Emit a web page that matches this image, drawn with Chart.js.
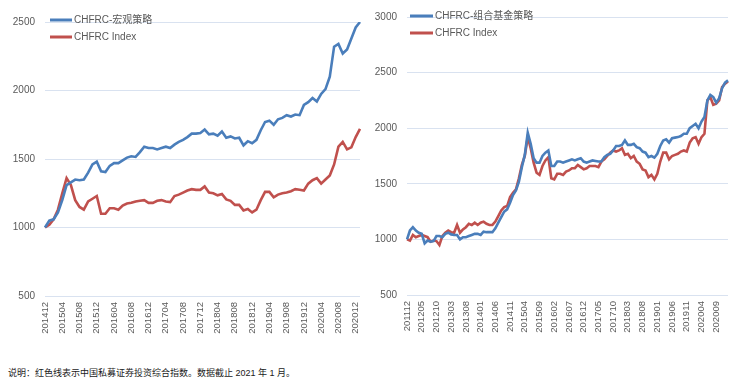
<!DOCTYPE html>
<html>
<head>
<meta charset="utf-8">
<script src="https://cdn.jsdelivr.net/npm/chart.js@4/dist/chart.umd.min.js"></script>
<style>
  html, body { margin: 0; padding: 0; background: #ffffff; }
  body { width: 750px; height: 381px; position: relative; overflow: hidden; }
  .box { position: absolute; top: 0; width: 375px; height: 340px; }
  #note { position: absolute; left: 8px; top: 366px; font-family: "Liberation Sans", "Noto Sans CJK SC", sans-serif; font-size: 9px; color: #1a1a1a; white-space: nowrap; }
</style>
</head>
<body>
<div class="box" style="left:0"><canvas id="c1" width="375" height="340"></canvas></div>
<div class="box" style="left:375px"><canvas id="c2" width="375" height="340"></canvas></div>
<div id="note">说明：红色线表示中国私募证券投资综合指数。数据截止 2021 年 1 月。</div>
<script>
// ---------- DATA ----------
function monthRange(startY, startM, endY, endM) {
  const out = [];
  let y = startY, m = startM;
  while (y < endY || (y === endY && m <= endM)) {
    out.push(String(y) + (m < 10 ? '0' : '') + m);
    m++; if (m > 12) { m = 1; y++; }
  }
  return out;
}
const leftCategories = monthRange(2014, 12, 2021, 1);   // 201412 .. 202101
const rightCategories = monthRange(2011, 12, 2021, 1);  // 201112 .. 202101

const leftSeriesName = 'CHFRC-宏观策略';
const rightSeriesName = 'CHFRC-组合基金策略';
const indexName = 'CHFRC Index';

const leftMacro = [
  1000,1050,1060,1110,1200,1310,1330,1350,1345,1350,1400,1460,1480,1410,1405,1450,
  1470,1470,1490,1510,1520,1515,1550,1590,1580,1580,1570,1580,1590,1580,1605,1625,
  1640,1660,1685,1685,1690,1715,1680,1685,1670,1700,1655,1665,1650,1655,1600,1630,
  1615,1640,1710,1770,1780,1750,1790,1800,1820,1810,1825,1820,1895,1915,1945,1920,
  1975,2010,2100,2320,2340,2270,2300,2380,2460,2500
];
const leftIndex = [
  1000,1020,1060,1130,1250,1360,1310,1200,1150,1130,1190,1210,1230,1100,1100,1140,
  1140,1130,1160,1175,1180,1190,1195,1200,1180,1180,1195,1200,1190,1185,1230,1240,
  1255,1270,1280,1275,1275,1300,1255,1250,1235,1245,1205,1195,1165,1165,1125,1135,
  1110,1130,1200,1260,1260,1220,1240,1250,1255,1265,1280,1275,1270,1320,1345,1360,
  1320,1350,1380,1460,1590,1625,1570,1585,1660,1720
];
const rightFoF = [
  1000,1080,1110,1080,1060,1050,965,990,980,985,1030,1030,1020,1050,1060,1045,
  1040,1040,1000,1020,1020,1030,1040,1050,1050,1040,1070,1065,1065,1065,1100,1150,
  1200,1250,1270,1330,1400,1440,1520,1650,1760,1960,1860,1730,1690,1690,1750,1780,
  1800,1660,1660,1700,1700,1690,1700,1710,1720,1710,1720,1730,1700,1690,1700,1710,
  1705,1700,1700,1740,1760,1770,1800,1840,1840,1850,1890,1850,1850,1860,1830,1820,
  1790,1780,1740,1750,1735,1770,1840,1890,1900,1870,1910,1915,1920,1930,1950,1950,
  2000,2020,2040,2000,2060,2100,2250,2300,2280,2230,2270,2360,2410,2430
];
const rightIndex = [
  1000,990,1040,1020,1030,1040,1030,1020,980,990,985,950,1030,1060,1080,1065,
  1060,1130,1060,1090,1110,1140,1130,1150,1130,1150,1160,1140,1130,1130,1160,1210,
  1260,1290,1300,1380,1420,1450,1550,1670,1750,1920,1820,1690,1600,1580,1660,1710,
  1740,1550,1540,1590,1590,1580,1610,1620,1640,1640,1670,1650,1630,1640,1660,1660,
  1660,1650,1700,1720,1750,1780,1800,1790,1800,1820,1760,1770,1730,1750,1700,1680,
  1630,1620,1560,1580,1540,1590,1700,1780,1780,1720,1750,1760,1770,1790,1800,1790,
  1870,1910,1920,1860,1920,1950,2250,2280,2210,2220,2250,2370,2400,2420
];

const leftYTicks = [500, 1000, 1500, 2000, 2500];
const rightYTicks = [500, 1000, 1500, 2000, 2500, 3000];
const leftLabelEvery = 4;
const rightLabelEvery = 5;

// ---------- STYLE ----------
const BLUE = '#4a7ebb';
const RED = '#c0504d';
const GRID = '#d9e2f0';
const TICK = '#595959';
const FONT = '"Liberation Sans", "Noto Sans CJK SC", sans-serif';

function legendPlugin(lineX0, lineX1, textX, y1, y2) {
  return {
    id: 'customLegend',
    afterDatasetsDraw(chart) {
      const ctx = chart.ctx;
      const a = chart.chartArea;
      const items = chart.data.datasets.map(d => ({ label: d.label, color: d.borderColor }));
      const ys = [y1, y2];
      ctx.save();
      items.forEach((it, k) => {
        const y = a.top + ys[k];
        ctx.strokeStyle = it.color;
        ctx.lineWidth = 3;
        ctx.lineCap = 'butt';
        ctx.beginPath();
        ctx.moveTo(a.left + lineX0, y);
        ctx.lineTo(a.left + lineX1, y);
        ctx.stroke();
        ctx.fillStyle = TICK;
        ctx.font = '10px ' + FONT;
        ctx.textBaseline = 'middle';
        ctx.textAlign = 'left';
        ctx.fillText(it.label, a.left + textX, y);
      });
      ctx.restore();
    }
  };
}

function makeChart(id, cats, s1Name, s1, s2, yTicks, every, dims, legend) {
  const yMin = yTicks[0], yMax = yTicks[yTicks.length - 1];
  return new Chart(document.getElementById(id), {
    type: 'line',
    data: {
      labels: cats,
      datasets: [
        { label: s1Name, data: s1, borderColor: BLUE, backgroundColor: BLUE, borderWidth: 2.6, pointRadius: 0, tension: 0 },
        { label: indexName, data: s2, borderColor: RED, backgroundColor: RED, borderWidth: 2.6, pointRadius: 0, tension: 0 }
      ]
    },
    options: {
      responsive: false,
      animation: false,
      events: [],
      layout: { padding: { top: dims.top, right: dims.right, left: 0, bottom: 0 } },
      plugins: { legend: { display: false }, tooltip: { enabled: false } },
      scales: {
        x: {
          type: 'category',
          offset: false,
          grid: { display: false, drawTicks: false },
          border: { display: false },
          ticks: {
            autoSkip: false,
            minRotation: 90,
            maxRotation: 90,
            padding: 6,
            color: TICK,
            font: { family: FONT, size: 9.5 },
            callback: function(v, i) { return i % every === 0 ? cats[i] : null; }
          },
          afterFit: function(s) { s.height = dims.xh; }
        },
        y: {
          min: yMin,
          max: yMax,
          afterBuildTicks: function(s) { s.ticks = yTicks.map(v => ({ value: v })); },
          grid: { color: GRID, lineWidth: 1, drawTicks: false },
          border: { display: false },
          ticks: {
            padding: dims.ypad,
            color: TICK,
            font: { family: FONT, size: 10 },
            callback: function(v) { return String(v); }
          },
          afterFit: function(s) { s.width = dims.yw; }
        }
      }
    },
    plugins: [legend]
  });
}

makeChart('c1', leftCategories, leftSeriesName, leftMacro, leftIndex, leftYTicks, leftLabelEvery,
  { top: 22, right: 15, xh: 44, yw: 45, ypad: 10 },
  legendPlugin(5, 27, 29, -2, 15));

makeChart('c2', rightCategories, rightSeriesName, rightFoF, rightIndex, rightYTicks, rightLabelEvery,
  { top: 17, right: 22, xh: 45, yw: 32, ypad: 10 },
  legendPlugin(3, 26, 28, -1, 16));
</script>
</body>
</html>
